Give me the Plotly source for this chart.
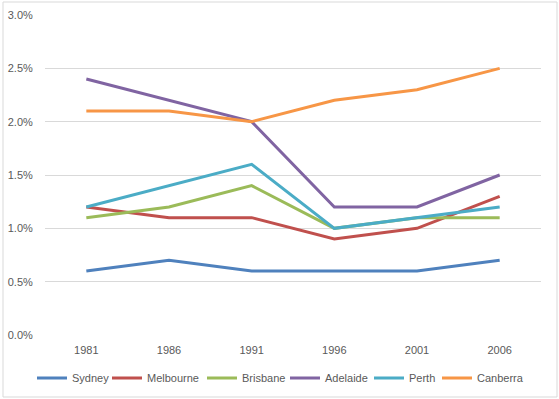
import plotly.graph_objects as go

years = ["1981", "1986", "1991", "1996", "2001", "2006"]
sydney = [0.6, 0.7, 0.6, 0.6, 0.6, 0.7]
melbourne = [1.2, 1.1, 1.1, 0.9, 1.0, 1.3]
brisbane = [1.1, 1.2, 1.4, 1.0, 1.1, 1.1]
adelaide = [2.4, 2.2, 2.0, 1.2, 1.2, 1.5]
perth = [1.2, 1.4, 1.6, 1.0, 1.1, 1.2]
canberra = [2.1, 2.1, 2.0, 2.2, 2.3, 2.5]

series = [
    ("Sydney", sydney, "#4F81BD"),
    ("Melbourne", melbourne, "#C0504D"),
    ("Brisbane", brisbane, "#9BBB59"),
    ("Adelaide", adelaide, "#8064A2"),
    ("Perth", perth, "#4BACC6"),
    ("Canberra", canberra, "#F79646"),
]

# legend symbol start positions (pixels)
legend_px = [39, 114, 209, 292, 376, 444]

W, H = 559, 399
ML, MR, MT, MB = 45, 18, 15, 64
PW = W - ML - MR
PH = H - MT - MB

font = dict(family="Liberation Sans, Arial, sans-serif", size=11, color="#595959")

fig = go.Figure()
layout_legends = {}
for i, (name, vals, color) in enumerate(series):
    key = "legend" if i == 0 else f"legend{i + 1}"
    fig.add_trace(go.Scatter(
        x=years, y=[v / 100 for v in vals], name=name, mode="lines",
        line=dict(color=color, width=3), legend=key,
    ))
    layout_legends[key] = dict(
        x=(legend_px[i] - ML - 7) / PW, xanchor="left",
        y=(MT + PH - 378) / PH, yanchor="middle",
        font=font, bgcolor="rgba(0,0,0,0)", orientation="h",
    )

fig.update_layout(
    width=W, height=H,
    margin=dict(l=ML, r=MR, t=MT, b=MB, autoexpand=False),
    paper_bgcolor="white", plot_bgcolor="white",
    font=font,
    showlegend=True,
    xaxis=dict(type="category", showgrid=False, zeroline=False, showline=False,
               ticks="outside", ticklen=5, tickcolor="rgba(0,0,0,0)",
               tickfont=font, range=[-0.5, 5.5], automargin=False),
    yaxis=dict(range=[0, 0.03], dtick=0.005, tickformat=".1%", showgrid=True,
               gridcolor="#D9D9D9", gridwidth=1, zeroline=False, showline=False,
               ticks="outside", ticklen=9, tickcolor="rgba(0,0,0,0)",
               tickfont=font, automargin=False),
    shapes=[dict(type="rect", xref="paper", yref="paper",
                 x0=(3 - ML) / PW, x1=(557 - ML) / PW,
                 y0=(MT + PH - 397) / PH, y1=(MT + PH - 2) / PH,
                 line=dict(color="#D9D9D9", width=1), fillcolor="rgba(0,0,0,0)",
                 layer="below")],
    **layout_legends,
)

fig.write_html("out.html", config={"displayModeBar": False},
               post_script="document.body.style.margin='0';")
